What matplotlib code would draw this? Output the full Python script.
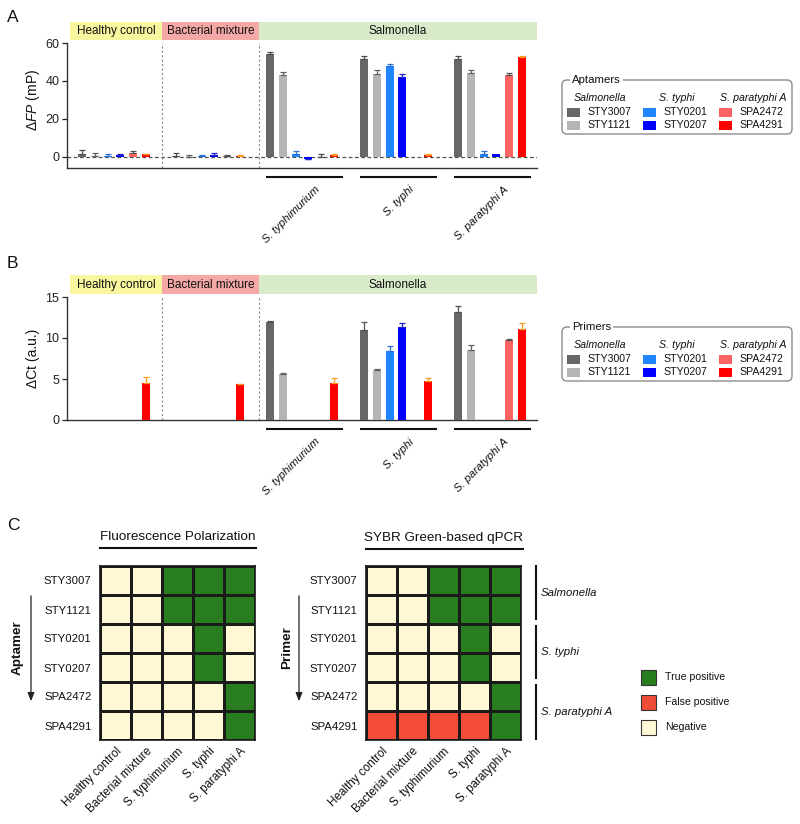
import matplotlib
matplotlib.use('Agg')
import matplotlib.pyplot as plt
from matplotlib.patches import Rectangle, FancyBboxPatch
from matplotlib.colors import ListedColormap
import matplotlib.transforms as mtransforms
import numpy as np

plt.rcParams['font.family'] = ['Liberation Sans', 'DejaVu Sans']
plt.rcParams['mathtext.fontset'] = 'custom'
plt.rcParams['mathtext.rm'] = 'Liberation Sans'
plt.rcParams['mathtext.it'] = 'Liberation Sans:italic'

# ---------------- data ----------------
groups = ['Healthy control', 'Bacterial mixture', 'S. typhimurium', 'S. typhi', 'S. paratyphi A']
band_labels = ['Healthy control', 'Bacterial mixture', 'Salmonella']
species = ['S. typhimurium', 'S. typhi', 'S. paratyphi A']
probes = ['STY3007', 'STY1121', 'STY0201', 'STY0207', 'SPA2472', 'SPA4291']
probe_targets = ['Salmonella', 'S. typhi', 'S. paratyphi A']
probe_colors = ['#676767', '#b5b5b5', '#1f86ff', '#0000ff', '#ff6464', '#ff0000']
err_colors = ['#505050', '#606060', '#2a6fd6', '#2020c8', '#505050', '#ff9a1e']

# Panel A: delta FP (mP) per probe across the five sample groups
fp_STY3007 = [1.8, 0.5, 54.0, 51.7, 51.7]
fp_STY1121 = [0.5, 0.2, 43.3, 43.7, 44.2]
fp_STY0201 = [0.3, 0.5, 1.4, 48.0, 1.4]
fp_STY0207 = [1.2, 1.2, -0.8, 42.3, 1.8]
fp_SPA2472 = [2.1, 0.3, 0.2, 0.0, 43.2]
fp_SPA4291 = [1.4, 0.6, 1.2, 1.0, 52.5]
fp_err_STY3007 = [2.1, 1.6, 1.0, 1.5, 1.5]
fp_err_STY1121 = [1.6, 1.0, 1.5, 2.0, 1.6]
fp_err_STY0201 = [1.3, 0.7, 1.6, 1.0, 1.5]
fp_err_STY0207 = [0.4, 0.9, 0.4, 1.5, 0.0]
fp_err_SPA2472 = [0.9, 0.9, 1.3, 0.0, 1.0]
fp_err_SPA4291 = [0.3, 0.2, 0.5, 0.5, 0.5]

# Panel B: delta Ct (a.u.)
ct_STY3007 = [0.0, 0.0, 12.0, 11.0, 13.2]
ct_STY1121 = [0.0, 0.0, 5.6, 6.1, 8.5]
ct_STY0201 = [0.0, 0.0, 0.0, 8.4, 0.0]
ct_STY0207 = [0.0, 0.0, 0.0, 11.4, 0.0]
ct_SPA2472 = [0.0, 0.0, 0.0, 0.0, 9.7]
ct_SPA4291 = [4.5, 4.4, 4.5, 4.7, 11.1]
ct_err_STY3007 = [0.0, 0.0, 0.05, 1.0, 0.7]
ct_err_STY1121 = [0.0, 0.0, 0.1, 0.1, 0.6]
ct_err_STY0201 = [0.0, 0.0, 0.0, 0.65, 0.0]
ct_err_STY0207 = [0.0, 0.0, 0.0, 0.45, 0.0]
ct_err_SPA2472 = [0.0, 0.0, 0.0, 0.0, 0.2]
ct_err_SPA4291 = [0.8, 0.05, 0.6, 0.45, 0.7]

# Panel C: 0 = Negative, 1 = True positive, 2 = False positive
outcome_labels = ['True positive', 'False positive', 'Negative']
fp_call_STY3007 = [0, 0, 1, 1, 1]
fp_call_STY1121 = [0, 0, 1, 1, 1]
fp_call_STY0201 = [0, 0, 0, 1, 0]
fp_call_STY0207 = [0, 0, 0, 1, 0]
fp_call_SPA2472 = [0, 0, 0, 0, 1]
fp_call_SPA4291 = [0, 0, 0, 0, 1]
qpcr_call_STY3007 = [0, 0, 1, 1, 1]
qpcr_call_STY1121 = [0, 0, 1, 1, 1]
qpcr_call_STY0201 = [0, 0, 0, 1, 0]
qpcr_call_STY0207 = [0, 0, 0, 1, 0]
qpcr_call_SPA2472 = [0, 0, 0, 0, 1]
qpcr_call_SPA4291 = [2, 2, 2, 2, 1]

fp_vals = [fp_STY3007, fp_STY1121, fp_STY0201, fp_STY0207, fp_SPA2472, fp_SPA4291]
fp_errs = [fp_err_STY3007, fp_err_STY1121, fp_err_STY0201, fp_err_STY0207, fp_err_SPA2472, fp_err_SPA4291]
ct_vals = [ct_STY3007, ct_STY1121, ct_STY0201, ct_STY0207, ct_SPA2472, ct_SPA4291]
ct_errs = [ct_err_STY3007, ct_err_STY1121, ct_err_STY0201, ct_err_STY0207, ct_err_SPA2472, ct_err_SPA4291]
fp_calls = [fp_call_STY3007, fp_call_STY1121, fp_call_STY0201, fp_call_STY0207, fp_call_SPA2472, fp_call_SPA4291]
qpcr_calls = [qpcr_call_STY3007, qpcr_call_STY1121, qpcr_call_STY0201, qpcr_call_STY0207, qpcr_call_SPA2472, qpcr_call_SPA4291]

# ---------------- layout helpers ----------------
W, H = 800, 824
fig = plt.figure(figsize=(8, 8.24), dpi=100)


def ax_px(x0, y0, x1, y1):
    return fig.add_axes([x0 / W, 1 - y1 / H, (x1 - x0) / W, (y1 - y0) / H])


def dx(px):
    return (px - 67) / 94.0 - 0.5


band_colors = ['#f8f69e', '#f4a9a6', '#d8eac8']
band_edges_px = [70, 162, 259, 537]


def bar_panel(ax, vals, errs, ylim, yticks, band_lo, band_hi, ul_y, lab_y, zero_line):
    gx = np.arange(len(groups))
    for j in range(len(probes)):
        x = gx + (j - 2.5) * 0.138
        v = np.array(vals[j], dtype=float)
        e = np.array(errs[j], dtype=float)
        ax.bar(x, v, width=0.085, color=probe_colors[j], zorder=3, linewidth=0)
        m = e > 0
        lo = np.where(v < 0, e, 0)[m]
        hi = np.where(v >= 0, e, 0)[m]
        ax.errorbar(x[m], v[m], yerr=[lo, hi], fmt='none', ecolor=err_colors[j],
                    elinewidth=0.9, capsize=2.2, capthick=0.9, zorder=4)
    ax.set_xlim(-0.5, 4.5)
    ax.set_ylim(*ylim)
    ax.set_yticks(yticks)
    ax.set_xticks([])
    for s in ['top', 'right']:
        ax.spines[s].set_visible(False)
    ax.spines['left'].set_linewidth(1.0)
    ax.spines['bottom'].set_linewidth(1.0)
    ax.spines['left'].set_color('#333333')
    ax.spines['bottom'].set_color('#333333')
    ax.tick_params(axis='y', labelsize=9, length=3.5, width=0.9, pad=2, colors='#222222')
    if zero_line:
        ax.axhline(0, ls=(0, (3, 2)), color='#555555', lw=0.9, zorder=2)
    for sx in band_edges_px[1:3]:
        ax.axvline(dx(sx), ls=(0, (2, 2)), color='#8a8a8a', lw=0.8, zorder=1)
    trans = mtransforms.blended_transform_factory(ax.transData, ax.transAxes)
    for k in range(3):
        x0 = dx(band_edges_px[k])
        x1 = dx(band_edges_px[k + 1])
        ax.add_patch(Rectangle((x0, band_lo), x1 - x0, band_hi - band_lo, transform=trans,
                               facecolor=band_colors[k], edgecolor='none', clip_on=False))
        ax.text((x0 + x1) / 2, (band_lo + band_hi) / 2, band_labels[k], transform=trans,
                ha='center', va='center', fontsize=8.5, color='#111111')
    for k, sp in enumerate(species):
        c = 2 + k + 0.03
        ax.plot([c - 0.41, c + 0.41], [ul_y, ul_y], transform=trans, color='#111111',
                lw=1.5, clip_on=False, solid_capstyle='butt')
        ax.text(2 + k + 0.14, lab_y, sp, transform=trans, rotation=45, ha='right', va='top',
                rotation_mode='anchor', fontsize=8.2, style='italic', color='#111111')


# Panel A
axA = ax_px(67, 43, 537, 168)
bar_panel(axA, fp_vals, fp_errs, (-5.8, 60), [0, 20, 40, 60], 1.024, 1.168, -0.072, -0.13, True)

# Panel B
axB = ax_px(67, 297, 537, 420)
bar_panel(axB, ct_vals, ct_errs, (0, 15), [0, 5, 10, 15], 1.024, 1.179, -0.075, -0.135, False)

# Panel C heatmaps
cmap = ListedColormap(['#fef8d4', '#287d1e', '#f24b3a'])


def heat(ax, mat):
    ax.pcolormesh(np.array(mat), cmap=cmap, vmin=-0.5, vmax=2.5,
                  edgecolors='#1a1a1a', linewidth=0.9)
    ax.set_xlim(0, 5)
    ax.set_ylim(6, 0)
    ax.set_xticks(np.arange(5) + 0.5)
    ax.set_xticklabels(groups, rotation=45, ha='right', va='top',
                       rotation_mode='anchor', fontsize=8.4, color='#111111')
    ax.set_yticks(np.arange(6) + 0.5)
    ax.set_yticklabels(probes, fontsize=8.2, color='#111111')
    ax.tick_params(length=0, pad=6)
    ax.tick_params(axis='x', pad=4)
    for s in ax.spines.values():
        s.set_linewidth(1.2)
        s.set_color('#1a1a1a')


axC1 = ax_px(100, 566, 255, 740)
heat(axC1, fp_calls)
axC2 = ax_px(366, 566, 521, 740)
heat(axC2, qpcr_calls)

# ---------------- overlay annotations ----------------
ov = fig.add_axes([0, 0, 1, 1])
ov.set_xlim(0, W)
ov.set_ylim(H, 0)
ov.axis('off')

for lab, y in [('A', 17), ('B', 263), ('C', 526)]:
    ov.text(7, y, lab, fontsize=12.5, ha='left', va='center', color='#111111')

ov.text(33, 100, r'$\mathit{\Delta FP}$ (mP)', rotation=90, ha='center', va='center',
        fontsize=10, color='#111111')
ov.text(33, 358, 'ΔCt (a.u.)', rotation=90, ha='center', va='center',
        fontsize=10, color='#111111')


def legend_box(top, title):
    ov.add_patch(FancyBboxPatch((562, top), 230, 54,
                                boxstyle='round,pad=0,rounding_size=5',
                                facecolor='none', edgecolor='#8c8c8c', lw=1.0))
    ov.text(572, top, title, ha='left', va='center', fontsize=8.2, color='#111111',
            bbox=dict(facecolor='white', edgecolor='none', pad=1.5))
    hx = [600, 677, 753]
    sx = [567, 643, 719]
    for k in range(3):
        ov.text(hx[k], top + 18, probe_targets[k], ha='center', va='center',
                fontsize=7.7, style='italic', color='#111111')
        for r in range(2):
            j = 2 * k + r
            yy = top + 32 + 13 * r
            ov.add_patch(Rectangle((sx[k], yy - 4.5), 13, 9, facecolor=probe_colors[j],
                                   edgecolor='none'))
            ov.text(sx[k] + 20, yy, probes[j], ha='left', va='center', fontsize=7.6,
                    color='#111111')


legend_box(80, 'Aptamers')
legend_box(327, 'Primers')

# Heatmap titles
ov.text(177.5, 537, 'Fluorescence Polarization', ha='center', va='center', fontsize=9.7,
        color='#111111')
ov.plot([100, 256], [548, 548], color='#111111', lw=1.5)
ov.text(444, 538, 'SYBR Green-based qPCR', ha='center', va='center', fontsize=9.7,
        color='#111111')
ov.plot([366, 523], [549, 549], color='#111111', lw=1.5)

# Aptamer / Primer arrows
for xt, xa, lab in [(18, 31, 'Aptamer'), (287, 299, 'Primer')]:
    ov.text(xt, 648, lab, rotation=90, ha='center', va='center', fontsize=9.7,
            fontweight='bold', color='#111111')
    ov.annotate('', xy=(xa, 704), xytext=(xa, 593),
                arrowprops=dict(arrowstyle='-|>,head_length=0.5,head_width=0.2',
                                color='#222222', lw=0.9))

# Right side group brackets
for (y0, y1), lab in zip([(566, 619), (626, 678), (685, 739)], probe_targets):
    ov.plot([536, 536], [y0, y1], color='#111111', lw=1.5)
    ov.text(541, (y0 + y1) / 2, lab, ha='left', va='center', fontsize=8.2,
            style='italic', color='#111111')

# Panel C legend
leg_cols = ['#287d1e', '#f24b3a', '#fef8d4']
for k, (lab, c) in enumerate(zip(outcome_labels, leg_cols)):
    yy = 677 + 25 * k
    ov.add_patch(Rectangle((641, yy - 7.5), 15, 15, facecolor=c, edgecolor='#333333', lw=0.8))
    ov.text(665, yy, lab, ha='left', va='center', fontsize=7.6, color='#111111')

fig.savefig('out.png', dpi=100)
